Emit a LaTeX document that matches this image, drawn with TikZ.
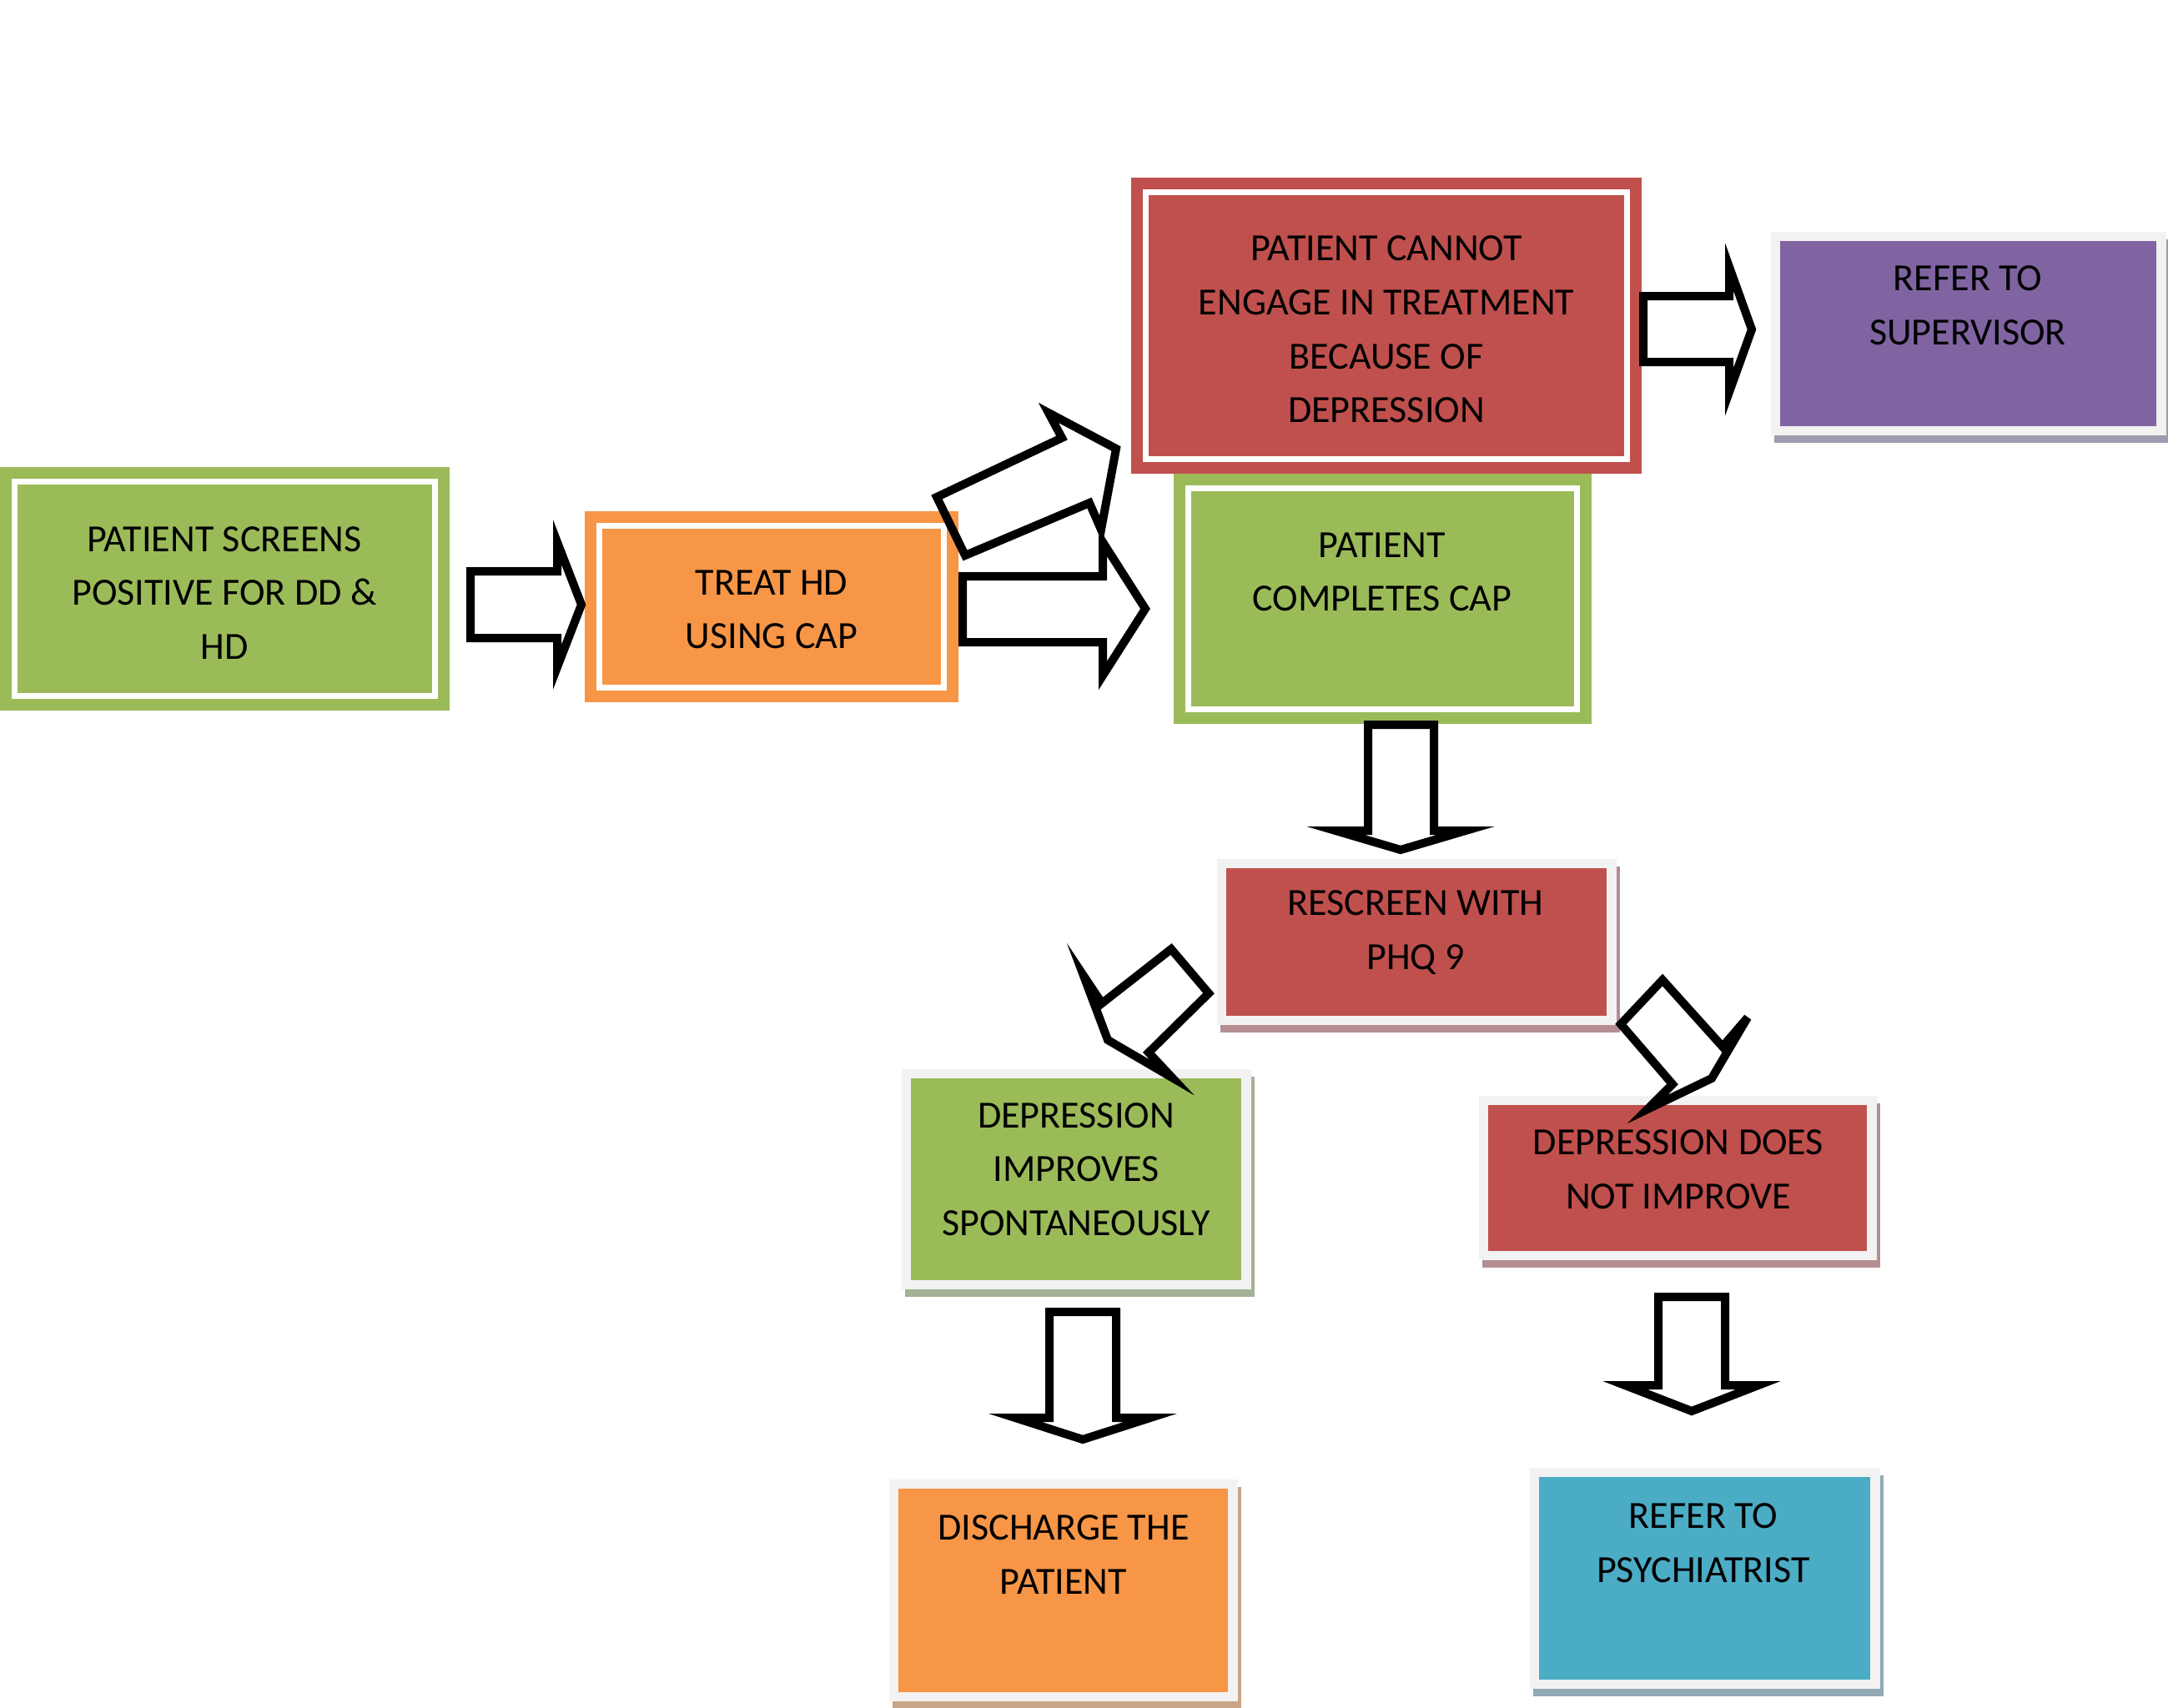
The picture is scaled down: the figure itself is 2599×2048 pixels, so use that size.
\documentclass[tikz,border=0pt]{standalone}
\usepackage{fontspec}
\setmainfont{Carlito}
\usetikzlibrary{fit}
\definecolor{cgreen}{HTML}{9BBB59}
\definecolor{corange}{HTML}{F79646}
\definecolor{cred}{HTML}{C0504D}
\definecolor{cpurple}{HTML}{8064A2}
\definecolor{cblue}{HTML}{4BACC6}
\definecolor{framegray}{HTML}{F2F2F2}
\definecolor{shpurple}{HTML}{A09BAE}
\definecolor{shred}{HTML}{B48E91}
\definecolor{shgreen}{HTML}{A4B195}
\definecolor{shorange}{HTML}{C9A486}
\definecolor{shblue}{HTML}{92AAB6}
% double-bordered box: name, x1, y1, x2, y2, colour
\newcommand\dblbox[6]{%
  \node[fit={(#2,#3)(#4,#5)}, inner sep=0pt, fill=#6] (#1) {};
  \draw[white, line width=0.07cm] ([xshift=0.18cm,yshift=-0.18cm]#1.north west) rectangle ([xshift=-0.18cm,yshift=0.18cm]#1.south east);
}
% framed box with shadow: name, x1, y1, x2, y2, colour, shadow colour
\newcommand\shdbox[7]{%
  \fill[#7] (#2+4,#3+9) rectangle (#4+4,#5+9);
  \node[fit={(#2,#3)(#4,#5)}, inner sep=0pt, fill=framegray] (#1) {};
  \fill[#6] ([xshift=0.12cm,yshift=-0.12cm]#1.north west) rectangle ([xshift=-0.13cm,yshift=0.12cm]#1.south east);
}
\begin{document}
\begin{tikzpicture}[x=0.01cm, y=-0.01cm,
  arr/.style={draw=black, line width=0.1cm, line join=miter, miter limit=10},
  txt/.style={align=center, inner sep=0pt, text=black, font=\fontsize{13.1pt}{18.4pt}\selectfont}]
\fill[white] (0,0) rectangle (2599,2048);
\useasboundingbox (0,0) rectangle (2599,2048);

% boxes
\dblbox{g1}{0}{560}{539}{852}{cgreen}
\dblbox{o1}{701}{613}{1149}{842}{corange}
\dblbox{g2}{1407}{568}{1908}{868}{cgreen}
\dblbox{r1}{1356}{213}{1968}{568}{cred}
\shdbox{p1}{2123}{278}{2597}{522}{cpurple}{shpurple}
\shdbox{r2}{1459}{1030}{1938}{1229}{cred}{shred}
\shdbox{g3}{1081}{1282}{1500}{1546}{cgreen}{shgreen}
\shdbox{r3}{1773}{1314}{2250}{1511}{cred}{shred}
\shdbox{o2}{1066}{1774}{1484}{2040}{corange}{shorange}
\shdbox{b1}{1834}{1760}{2254}{2025}{cblue}{shblue}

% block arrows
\draw[arr] (564,685) -- (668,685) -- (668,650) -- (697,725) -- (668,800) -- (668,765) -- (564,765) -- cycle;
\draw[arr] (1154,691) -- (1322,691) -- (1322,650) -- (1373,730) -- (1322,810) -- (1322,770) -- (1154,770) -- cycle;
\draw[arr] (1123,596) -- (1273,525) -- (1257,495) -- (1338,538) -- (1320,635) -- (1306,603) -- (1157,666) -- cycle;
\draw[arr] (1970,355) -- (2073,355) -- (2073,320) -- (2100,395) -- (2073,470) -- (2073,434) -- (1970,434) -- cycle;
\draw[arr] (1640,869) -- (1719,869) -- (1719,996) -- (1757,996) -- (1679,1019) -- (1601,996) -- (1640,996) -- cycle;
\draw[arr] (1258,1573) -- (1338,1573) -- (1338,1700) -- (1379,1700) -- (1298,1726) -- (1217,1700) -- (1258,1700) -- cycle;
\draw[arr] (1988,1555) -- (2068,1555) -- (2068,1661) -- (2108,1661) -- (2028,1692) -- (1948,1661) -- (1988,1661) -- cycle;
\draw[arr] (1404,1138) -- (1449,1191) -- (1377,1262) -- (1405,1292) -- (1328,1247) -- (1299,1170) -- (1321,1203) -- cycle;
\draw[arr] (1993,1175) -- (2065,1255) -- (2095,1220) -- (2052,1293) -- (1975,1330) -- (2005,1300) -- (1943,1228) -- cycle;

% texts
\node[txt] (t1) at (269,711) {PATIENT SCREENS\\POSITIVE FOR DD \&\\HD};
\node[txt] (t2) at (925,731) {TREAT HD\\USING CAP};
\node[txt] (t3) at (1662,395) {PATIENT CANNOT\\ENGAGE IN TREATMENT\\BECAUSE OF\\DEPRESSION};
\node[txt] (t4) at (2359,366) {REFER TO\\SUPERVISOR};
\node[txt] (t5) at (1657,686) {PATIENT\\COMPLETES CAP};
\node[txt] (t6) at (1697,1118) {RESCREEN WITH\\PHQ 9};
\node[txt] (t7) at (1290,1402) {DEPRESSION\\IMPROVES\\SPONTANEOUSLY};
\node[txt] (t8) at (2012,1402) {DEPRESSION DOES\\NOT IMPROVE};
\node[txt] (t9) at (1275,1864) {DISCHARGE THE\\PATIENT};
\node[txt] (t10) at (2042,1850) {REFER TO\\PSYCHIATRIST};
\end{tikzpicture}
\end{document}
